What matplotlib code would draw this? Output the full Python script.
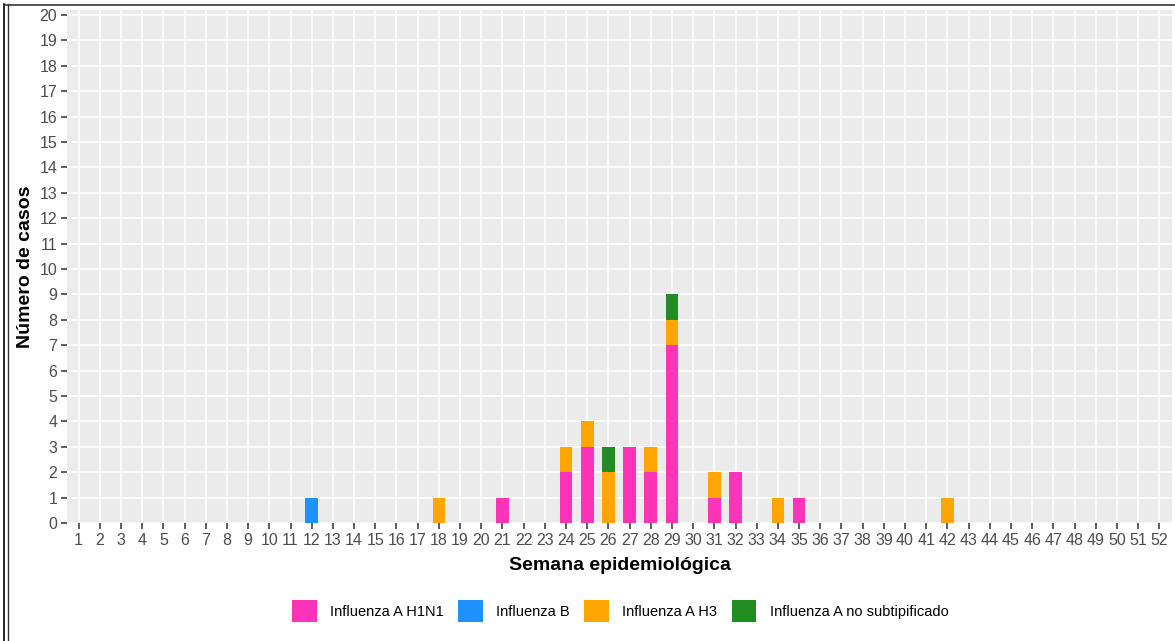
import numpy as np
import matplotlib
matplotlib.use("Agg")
import matplotlib.pyplot as plt
from matplotlib.lines import Line2D
from matplotlib.patches import Patch

plt.rcParams['font.family'] = ['Liberation Sans', 'DejaVu Sans']

# Data: cases per epidemiological week, by influenza type
weeks = list(range(1, 53))
case_weeks = [12, 18, 21, 24, 25, 26, 27, 28, 29, 31, 32, 34, 35, 42]
h1n1 =       [0,  0,  1,  2,  3,  0,  3,  2,  7,  1,  2,  0,  1,  0]
flu_b =      [1,  0,  0,  0,  0,  0,  0,  0,  0,  0,  0,  0,  0,  0]
h3 =         [0,  1,  0,  1,  1,  2,  0,  1,  1,  1,  0,  1,  0,  1]
no_subtype = [0,  0,  0,  0,  0,  1,  0,  0,  1,  0,  0,  0,  0,  0]

series_names = ["Influenza A H1N1", "Influenza B", "Influenza A H3",
                "Influenza A no subtipificado"]
series_vals = [h1n1, flu_b, h3, no_subtype]
colors = ["#FF33B8", "#1E90FF", "#FFA500", "#228B22"]

W, H = 1175, 641
fig = plt.figure(figsize=(W / 100, H / 100), dpi=100)
ax = fig.add_axes([67 / W, 1 - 523 / H, (1172 - 67) / W, (523 - 10) / H])

ax.set_facecolor("#EBEBEB")
ax.set_axisbelow(True)
ax.grid(True, color="white", lw=1.1)

bottom = np.zeros(len(case_weeks))
for name, vals, c in zip(series_names, series_vals, colors):
    vals = np.array(vals, dtype=float)
    ax.bar(case_weeks, vals, bottom=bottom, width=0.6, color=c, label=name,
           linewidth=0)
    bottom += vals

ax.set_xlim(0.45, 52.6)
ax.set_ylim(0, 20.2)
ax.set_xticks(weeks)
ax.set_yticks(range(0, 21))
ax.tick_params(axis="both", colors="#333333", labelcolor="#4D4D4D",
               labelsize=11.5, length=4, width=1.1, pad=3)
for s in ax.spines.values():
    s.set_visible(False)

ax.set_xlabel("Semana epidemiológica", fontsize=14, fontweight="bold",
              labelpad=7)
ax.set_ylabel("Número de casos", fontsize=14, fontweight="bold",
              labelpad=4)

handles = [Patch(facecolor=c, edgecolor="none") for c in colors]
fig.legend(handles, series_names, loc="center", ncol=4,
           bbox_to_anchor=(620 / W, 1 - 611 / H), frameon=False,
           fontsize=10.5, handlelength=1.7, handleheight=1.85,
           columnspacing=1.0, handletextpad=0.9)

# frame lines round the picture
fig.add_artist(Line2D([4 / W, 4 / W], [0, 1 - 4 / H], transform=fig.transFigure,
                      color="black", lw=1.2))
fig.add_artist(Line2D([7.5 / W, 7.5 / W], [0, 1 - 4 / H], transform=fig.transFigure,
                      color="#333333", lw=1.0))
fig.add_artist(Line2D([4 / W, 1], [1 - 4.5 / H, 1 - 4.5 / H], transform=fig.transFigure,
                      color="#333333", lw=1.2))

fig.savefig("out.png", dpi=100)
